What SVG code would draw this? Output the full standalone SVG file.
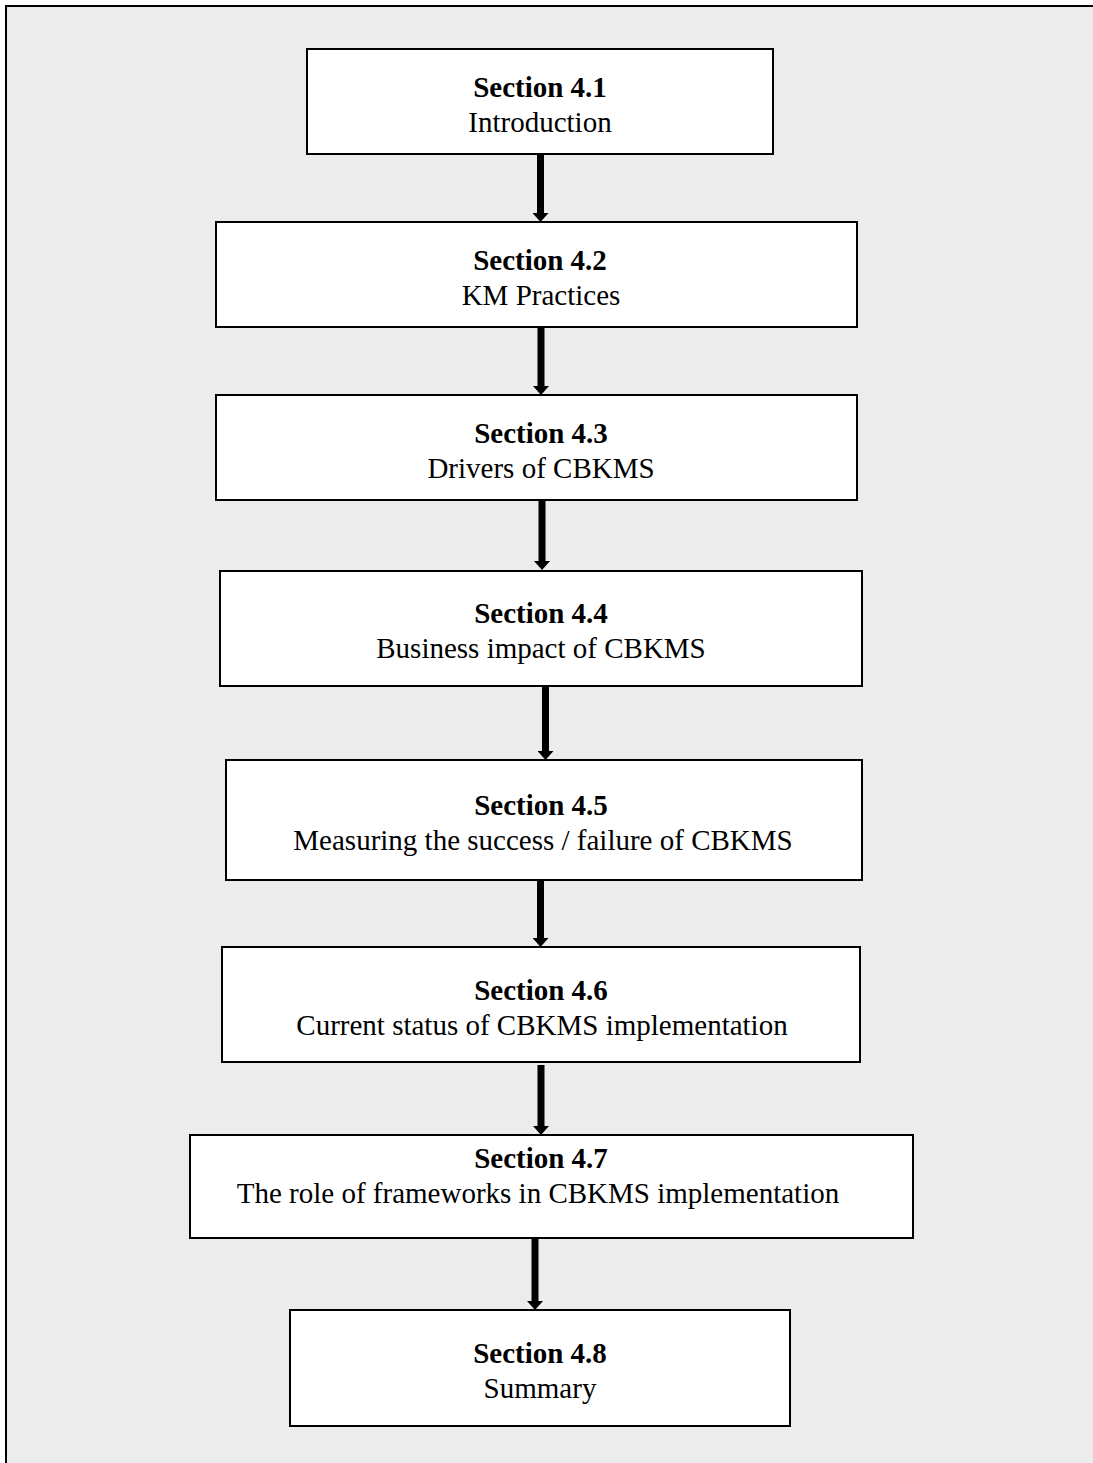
<svg xmlns="http://www.w3.org/2000/svg" width="1093" height="1463" viewBox="0 0 1093 1463">
  <defs>
    <style>
      .box { fill: #ffffff; stroke: #000000; stroke-width: 2; }
      .title { font-family: "Liberation Serif", "Times New Roman", serif; font-size: 29px; font-weight: bold; fill: #000; text-anchor: middle; }
      .label { font-family: "Liberation Serif", "Times New Roman", serif; font-size: 29px; fill: #000; text-anchor: middle; }
      .flow { stroke: #000000; stroke-width: 7; fill: none; }
    </style>
    <marker id="head" markerUnits="userSpaceOnUse" viewBox="0 0 9 16" refX="0" refY="8" markerWidth="9" markerHeight="16" orient="auto">
      <path d="M0,0 L9,8 L0,16 Z" fill="#000"/>
    </marker>
  </defs>

  <!-- page background and frame (top and left edges only) -->
  <rect x="0" y="0" width="1093" height="1463" fill="#ffffff"/>
  <rect x="6" y="6" width="1087" height="1457" fill="#ececec"/>
  <path d="M6,1463 V6 H1093" fill="none" stroke="#000" stroke-width="2"/>

  <!-- connectors -->
  <g id="connectors">
    <line class="flow" x1="540.5" y1="154" x2="540.5" y2="213" marker-end="url(#head)"/>
    <line class="flow" x1="541" y1="327" x2="541" y2="386" marker-end="url(#head)"/>
    <line class="flow" x1="542" y1="500" x2="542" y2="561" marker-end="url(#head)"/>
    <line class="flow" x1="545.5" y1="675" x2="545.5" y2="751" marker-end="url(#head)"/>
    <line class="flow" x1="540.5" y1="880" x2="540.5" y2="938" marker-end="url(#head)"/>
    <line class="flow" x1="541" y1="1065" x2="541" y2="1126" marker-end="url(#head)"/>
    <line class="flow" x1="535" y1="1238" x2="535" y2="1301" marker-end="url(#head)"/>
  </g>

  <g id="s41">
    <rect class="box" x="307" y="49" width="466" height="105"/>
    <text class="title" x="540" y="97">Section 4.1</text>
    <text class="label" x="540" y="132">Introduction</text>
  </g>

  <g id="s42">
    <rect class="box" x="216" y="222" width="641" height="105"/>
    <text class="title" x="540" y="270">Section 4.2</text>
    <text class="label" x="541" y="305">KM Practices</text>
  </g>

  <g id="s43">
    <rect class="box" x="216" y="395" width="641" height="105"/>
    <text class="title" x="541" y="443">Section 4.3</text>
    <text class="label" x="541" y="478">Drivers of CBKMS</text>
  </g>

  <g id="s44">
    <rect class="box" x="220" y="571" width="642" height="115"/>
    <text class="title" x="541" y="623">Section 4.4</text>
    <text class="label" x="541" y="658">Business impact of CBKMS</text>
  </g>

  <g id="s45">
    <rect class="box" x="226" y="760" width="636" height="120"/>
    <text class="title" x="541" y="815">Section 4.5</text>
    <text class="label" x="543" y="850">Measuring the success / failure of CBKMS</text>
  </g>

  <g id="s46">
    <rect class="box" x="222" y="947" width="638" height="115"/>
    <text class="title" x="541" y="1000">Section 4.6</text>
    <text class="label" x="542" y="1035">Current status of CBKMS implementation</text>
  </g>

  <g id="s47">
    <rect class="box" x="190" y="1135" width="723" height="103"/>
    <text class="title" x="541" y="1168">Section 4.7</text>
    <text class="label" x="538" y="1203">The role of frameworks in CBKMS implementation</text>
  </g>

  <g id="s48">
    <rect class="box" x="290" y="1310" width="500" height="116"/>
    <text class="title" x="540" y="1363">Section 4.8</text>
    <text class="label" x="540" y="1398">Summary</text>
  </g>
</svg>
